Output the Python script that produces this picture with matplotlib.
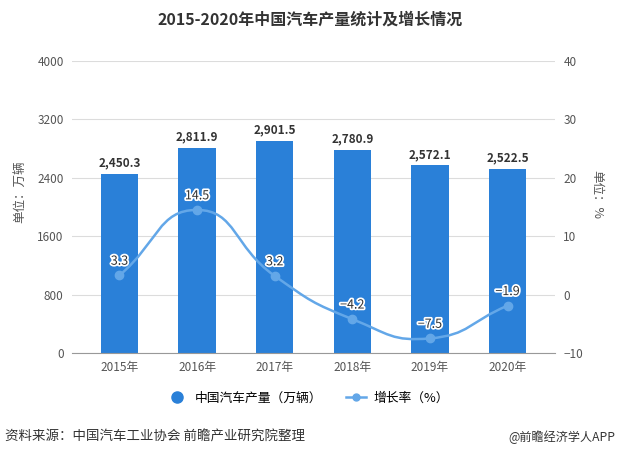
import matplotlib
matplotlib.use("Agg")
import matplotlib.pyplot as plt
import matplotlib.patheffects as pe
from matplotlib.path import Path
from matplotlib.patches import PathPatch
from matplotlib.lines import Line2D
import numpy as np

plt.rcParams['font.family'] = ['Noto Sans CJK SC', 'DejaVu Sans']

years = ['2015年', '2016年', '2017年', '2018年', '2019年', '2020年']
production = [2450.3, 2811.9, 2901.5, 2780.9, 2572.1, 2522.5]
growth = [3.3, 14.5, 3.2, -4.2, -7.5, -1.9]
left_ticks = [0, 800, 1600, 2400, 3200, 4000]
right_ticks = [-10, 0, 10, 20, 30, 40]

BAR = '#2a80d8'
LINE = '#63a7e8'
GRID = '#dcdcdc'
TXT = '#555555'

W, H = 621, 457
fig = plt.figure(figsize=(W/100, H/100), dpi=100)
ax = fig.add_axes([72/W, 1-353/H, (555-72)/W, (353-61)/H])
ax2 = ax.twinx()

x = np.arange(len(years))
ax.bar(x, production, width=0.48, color=BAR, zorder=2)
ax.set_ylim(0, 4000)
ax.set_xlim(-0.612, 5.612)
ax.set_yticks(left_ticks)
ax.set_xticks(x)
ax.set_xticklabels(years)
ax.grid(axis='y', color=GRID, linewidth=0.8, zorder=0)
ax.set_axisbelow(True)
for s in ['top', 'right', 'left']:
    ax.spines[s].set_visible(False)
ax.spines['bottom'].set_color('#999999')
ax.tick_params(axis='both', length=0, labelsize=8.5, labelcolor=TXT, pad=6)

for xi, v in zip(x, production):
    ax.text(xi, v + 60, f'{v:,.1f}', ha='center', va='bottom', fontsize=8.5,
            fontweight='bold', color='#333333', zorder=5)

ax2.set_ylim(-10, 40)
ax2.set_yticks(right_ticks)
for s in ['top', 'right', 'left', 'bottom']:
    ax2.spines[s].set_visible(False)
ax2.tick_params(axis='y', length=0, labelsize=8.5, labelcolor=TXT, pad=6)

# smooth line (echarts-like bezier) computed in display space
fig.canvas.draw()
pts = ax2.transData.transform(np.column_stack([x, growth]))
n = len(pts)
verts = [pts[0]]
codes = [Path.MOVETO]
smooth = 0.5
cps = []
for i in range(n):
    prev = pts[max(i-1, 0)]
    nxt = pts[min(i+1, n-1)]
    cur = pts[i]
    v = nxt - prev
    d0 = np.linalg.norm(cur - prev)
    d1 = np.linalg.norm(nxt - cur)
    s = d0 + d1 if d0 + d1 > 0 else 1
    cps.append((cur - v*smooth*d0/s, cur + v*smooth*d1/s))
for i in range(n-1):
    verts += [cps[i][1], cps[i+1][0], pts[i+1]]
    codes += [Path.CURVE4]*3
inv = ax2.transData.inverted()
verts = inv.transform(np.array(verts))
patch = PathPatch(Path(verts, codes), facecolor='none', edgecolor=LINE, linewidth=1.8, zorder=4)
ax2.add_patch(patch)
ax2.plot(x, growth, 'o', color=LINE, markersize=6, zorder=5)

for xi, g in zip(x, growth):
    lbl = f'{g}' if g >= 0 else f'\u2212{abs(g)}'
    ax2.text(xi, g + 1.3, lbl, ha='center', va='bottom', fontsize=9, color='#333333',
             zorder=6, path_effects=[pe.withStroke(linewidth=2.5, foreground='white')])

fig.text(20/W, 1-192/H, '单位：万辆', rotation=90, ha='center', va='center', fontsize=9, color=TXT)
fig.text(597/W, 1-195/H, '单位：%', rotation=-90, ha='center', va='center', fontsize=9, color=TXT)

fig.text(0.5, 1-20/H, '2015-2020年中国汽车产量统计及增长情况', ha='center', va='center',
         fontsize=11.5, fontweight='bold', color='#333333')

handles = [Line2D([], [], marker='o', linestyle='none', color=BAR, markersize=8),
           Line2D([], [], marker='o', color=LINE, markersize=5, linewidth=1.8)]
fig.legend(handles, ['中国汽车产量（万辆）', '增长率（%）'], loc='center',
           bbox_to_anchor=(308/W, 1-398/H), ncol=2, frameon=False, fontsize=9.2,
           handlelength=1.6, columnspacing=1.8, handletextpad=0.6)

fig.text(5/W, 1-437/H, '资料来源：中国汽车工业协会 前瞻产业研究院整理', ha='left', va='center',
         fontsize=9.7, color='#333333')
fig.text(615/W, 1-437/H, '@前瞻经济学人APP', ha='right', va='center', fontsize=8.7, color='#333333')

fig.savefig('out.png', dpi=100)
